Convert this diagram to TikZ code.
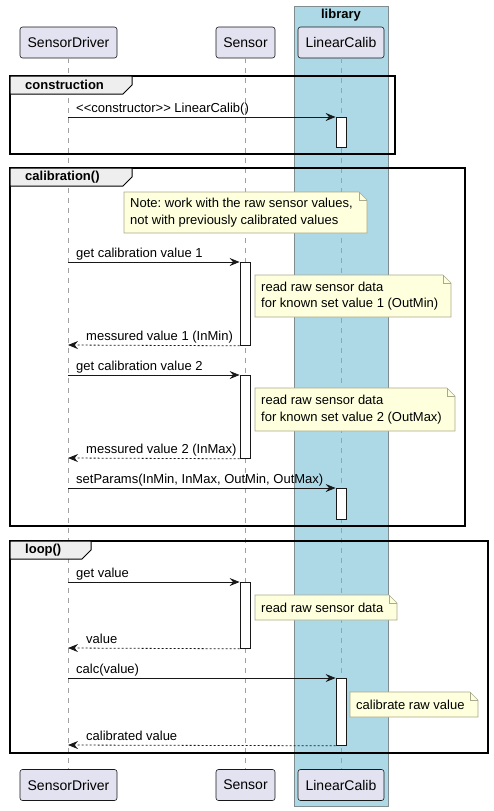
\documentclass[tikz,border=0pt]{standalone}
\usepackage{fontspec}
\setmainfont{Liberation Sans}
\usetikzlibrary{arrows.meta}
\frenchspacing
\definecolor{partfill}{HTML}{E2E2F0}
\definecolor{partline}{HTML}{181818}
\definecolor{libfill}{HTML}{ADD8E6}
\definecolor{libline}{HTML}{7F8C90}
\definecolor{notefill}{HTML}{FEFFDD}
\definecolor{noteline}{HTML}{A9A98C}
\definecolor{lifegray}{HTML}{A0A0A0}
\definecolor{tabfill}{HTML}{EEEEEE}
\tikzset{
  part/.style={draw=partline, fill=partfill, line width=0.6pt, rounded corners=2.5pt,
    minimum height=31pt, inner sep=0pt, font=\fontsize{14}{16}\selectfont},
  lifeline/.style={draw=lifegray, line width=1pt, dash pattern=on 5pt off 5pt},
  frameline/.style={draw=black, line width=1.5pt},
  tabline/.style={draw=black, line width=1pt, fill=tabfill},
  framelbl/.style={font=\fontsize{13}{15}\selectfont\bfseries, anchor=west, inner sep=0pt},
  act/.style={draw=partline, fill=white, line width=0.8pt, minimum width=10pt, inner sep=0pt, anchor=north},
  msg/.style={draw=partline, line width=0.8pt, -{Stealth[length=10pt,width=8pt,inset=3.5pt]}},
  ret/.style={msg, dash pattern=on 2pt off 2pt},
  lbl/.style={font=\fontsize{13}{15}\selectfont, anchor=base west, inner sep=0pt},
  notebg/.style={draw=noteline, fill=notefill, line width=0.7pt},
  notetxt/.style={font=\fontsize{13}{16.5}\selectfont, align=left, anchor=west, inner sep=0pt},
}
\newcommand\mynote[6]{%
  \filldraw[notebg] (#2,#3) -- ({#4-8},#3) -- (#4,{#3+8}) -- (#4,#5) -- (#2,#5) -- cycle;
  \draw[notebg, fill=none] ({#4-8},#3) -- ({#4-8},{#3+8}) -- (#4,{#3+8});
  \node[notetxt] (#1) at ({#2+6},{(#3+#5)/2}) {#6};
}
\begin{document}
\begin{tikzpicture}[x=1pt,y=-1pt]
\useasboundingbox (0,0) rectangle (494,811);
% library box
\filldraw[fill=libfill, draw=libline, line width=1pt] (294.5,6) rectangle (388,806);
\node[font=\fontsize{13}{15}\selectfont\bfseries, inner sep=0pt] (libname) at (341,15) {library};
% participants
\node[part, minimum width=97pt] (sdT) at (68.5,42.5) {SensorDriver};
\node[part, minimum width=59pt] (seT) at (245.5,42.5) {Sensor};
\node[part, minimum width=86pt] (lcT) at (341,42.5) {LinearCalib};
\node[part, minimum width=97pt] (sdB) at (68.5,785) {SensorDriver};
\node[part, minimum width=59pt] (seB) at (245.5,785) {Sensor};
\node[part, minimum width=86pt] (lcB) at (341,785) {LinearCalib};
% lifelines
\draw[lifeline] (68,58) -- (68,769);
\draw[lifeline] (245,58) -- (245,769);
\draw[lifeline] (341,58) -- (341,769);
% frames
\draw[frameline] (10,76) rectangle (395,154);
\filldraw[tabline] (10,76) -- (132,76) -- (132,85) -- (123,94) -- (10,94) -- cycle;
\node[framelbl] (f1) at (25,85) {construction};
\draw[frameline] (10,168) rectangle (465,526);
\filldraw[tabline] (10,168) -- (132,168) -- (132,177) -- (123,186) -- (10,186) -- cycle;
\node[framelbl] (f2) at (25,177) {calibration()};
\draw[frameline] (10,541) rectangle (488,753);
\filldraw[tabline] (10,541) -- (91,541) -- (91,550) -- (82,559) -- (10,559) -- cycle;
\node[framelbl] (f3) at (25,550) {loop()};
% activations
\node[act, minimum height=30pt] (a1) at (341,117) {};
\node[act, minimum height=83pt] (a2) at (245,262) {};
\node[act, minimum height=83pt] (a3) at (245,375) {};
\node[act, minimum height=31pt] (a4) at (341,488) {};
\node[act, minimum height=66pt] (a5) at (245,582) {};
\node[act, minimum height=67pt] (a6) at (341,678) {};
% message start/end points on SensorDriver lifeline
\coordinate (s1) at (68,117);
\coordinate (s2) at (68,262);
\coordinate (e2) at (68,345);
\coordinate (s3) at (68,375);
\coordinate (e3) at (68,458);
\coordinate (s4) at (68,488);
\coordinate (s5) at (68,582);
\coordinate (e5) at (68,648);
\coordinate (s6) at (68,678);
\coordinate (e6) at (68,745);
% messages
\draw[msg] (s1) -- (a1.north west);
\node[lbl] (l1) at (76,112) {{<}{<}constructor{>}{>} LinearCalib()};
\draw[msg] (s2) -- (a2.north west);
\node[lbl] (l2) at (76,257) {get calibration value 1};
\draw[ret] (a2.south west) -- (e2);
\node[lbl] (l3) at (86,340) {messured value 1 (InMin)};
\draw[msg] (s3) -- (a3.north west);
\node[lbl] (l4) at (76,370) {get calibration value 2};
\draw[ret] (a3.south west) -- (e3);
\node[lbl] (l5) at (86,453) {messured value 2 (InMax)};
\draw[msg] (s4) -- (a4.north west);
\node[lbl] (l6) at (76,483) {setParams(InMin, InMax, OutMin, OutMax)};
\draw[msg] (s5) -- (a5.north west);
\node[lbl] (l7) at (76,577) {get value};
\draw[ret] (a5.south west) -- (e5);
\node[lbl] (l8) at (86,643) {value};
\draw[msg] (s6) -- (a6.north west);
\node[lbl] (l9) at (76,673) {calc(value)};
\draw[ret] (a6.south west) -- (e6);
\node[lbl] (l10) at (86,740) {calibrated value};
% notes
\mynote{n1}{124}{192}{367}{233}{Note: work with the raw sensor values,\\not with previously calibrated values}
\mynote{n2}{255}{275}{451}{317}{read raw sensor data\\for known set value 1 (OutMin)}
\mynote{n3}{255}{388}{455}{431}{read raw sensor data\\for known set value 2 (OutMax)}
\mynote{n4}{255}{595}{397}{620}{read raw sensor data}
\mynote{n5}{350}{692}{478}{717}{calibrate raw value}
\end{tikzpicture}
\end{document}
